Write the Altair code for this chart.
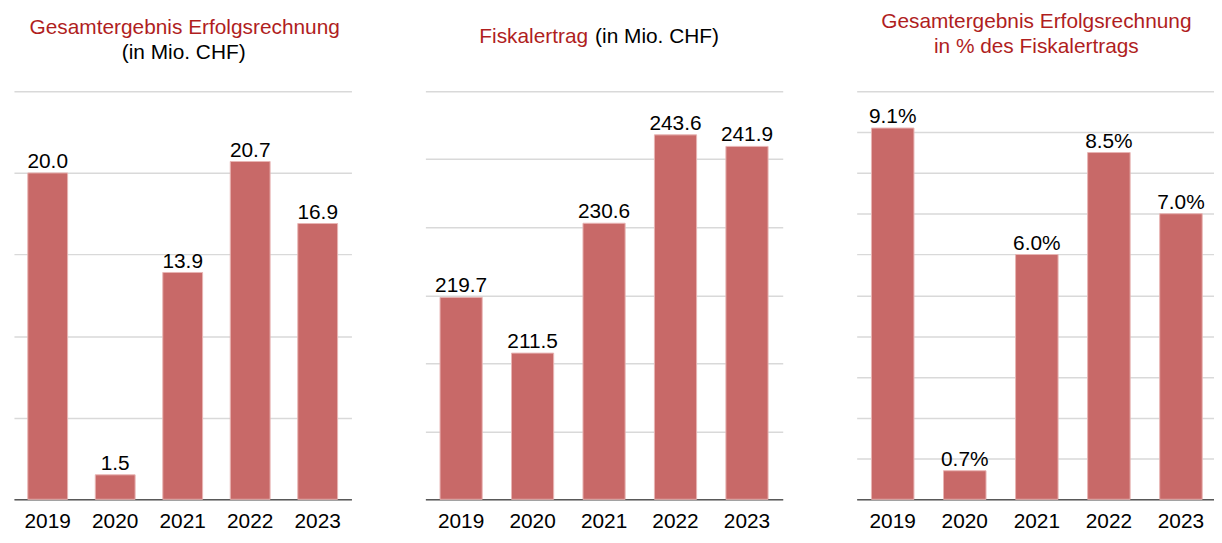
import altair as alt
import pandas as pd

years = ["2019", "2020", "2021", "2022", "2023"]
ergebnis = [20.0, 1.5, 13.9, 20.7, 16.9]          # Mio. CHF
fiskalertrag = [219.7, 211.5, 230.6, 243.6, 241.9]  # Mio. CHF
anteil = [9.1, 0.7, 6.0, 8.5, 7.0]                 # %

grid1 = [0, 5, 10, 15, 20, 25]
grid2 = [190, 200, 210, 220, 230, 240, 250]
grid3 = [0, 1, 2, 3, 4, 5, 6, 7, 8, 9, 10]

title1_red = "Gesamtergebnis Erfolgsrechnung"
title1_black = "(in Mio. CHF)"
title2_red = "Fiskalertrag"
title2_black = "(in Mio. CHF)"
title3_red_1 = "Gesamtergebnis Erfolgsrechnung"
title3_red_2 = "in % des Fiskalertrags"

FONT = "Liberation Sans"
RED = "#B01E1E"
BAR = "#C86968"
BAR_EDGE = "#E8B4B3"
GRID = "#D9D9D9"
BASE = "#595959"
FS = 21
H = 411


def text_layer(txt, x, y, color, align="center"):
    return alt.Chart(pd.DataFrame({"t": [txt]})).mark_text(
        font=FONT, fontSize=FS, color=color, align=align, baseline="alphabetic"
    ).encode(x=alt.value(x), y=alt.value(y), text="t:N")


def panel(values, domain, grid_values, fmt_expr, width, base, titles):
    df = pd.DataFrame({"Jahr": years, "Wert": values})
    x = alt.X(
        "Jahr:N", sort=years,
        scale=alt.Scale(paddingInner=0.41, paddingOuter=0.205),
        axis=alt.Axis(title=None, labelAngle=0, ticks=False, tickSize=0,
                      labelPadding=28, labelBaseline="alphabetic",
                      labelFontSize=FS, labelFont=FONT, labelColor="black",
                      domainColor=BASE, domainWidth=1.5),
    )
    y = alt.Y(
        "Wert:Q",
        scale=alt.Scale(domain=domain, zero=False, nice=False),
        axis=alt.Axis(title=None, labels=False, ticks=False, domain=False,
                      grid=True, values=grid_values, gridColor=GRID, gridWidth=1.5),
    )
    bars = alt.Chart(df).mark_bar(color=BAR, stroke=BAR_EDGE, strokeWidth=1).encode(
        x=x, y=y, y2=alt.datum(base)
    )
    labels = alt.Chart(df).transform_calculate(label=fmt_expr).mark_text(
        baseline="alphabetic", dy=-5, fontSize=FS, font=FONT, color="black"
    ).encode(x=alt.X("Jahr:N", sort=years), y="Wert:Q", text="label:N")
    return alt.layer(bars, labels, *titles).properties(width=width, height=H)


W1, W2, W3 = 340, 360, 363

p1 = panel(ergebnis, [0, 25], grid1, "format(datum.Wert, '.1f')", W1, 0, [
    text_layer(title1_red, 172, -58, RED),
    text_layer(title1_black, 171, -33, "black"),
])
p2 = panel(fiskalertrag, [190, 250], grid2, "format(datum.Wert, '.1f')", W2, 190, [
    text_layer(title2_red, 164, -48.7, RED, align="right"),
    text_layer(title2_black, 171, -48.7, "black", align="left"),
])
p3 = panel(anteil, [0, 10], grid3, "format(datum.Wert, '.1f') + '%'", W3, 0, [
    text_layer(title3_red_1, 181, -64.1, RED),
    text_layer(title3_red_2, 181, -38.8, RED),
])

chart = alt.hconcat(p1, p2, p3, spacing=74.5, bounds="flush").properties(
    padding={"left": 5, "top": 0, "right": -4, "bottom": 1}
).configure_view(stroke="transparent")

chart.save("out.html", embed_options={"renderer": "svg", "actions": False})
